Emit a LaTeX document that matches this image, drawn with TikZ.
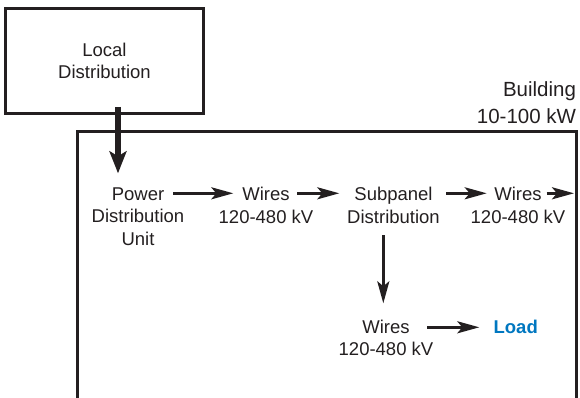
\documentclass[tikz,border=0pt]{standalone}
\usepackage{fontspec}
\setmainfont{Liberation Sans}
\usetikzlibrary{arrows.meta, positioning}
\definecolor{ink}{RGB}{35,31,32}
\definecolor{loadblue}{RGB}{0,119,192}

\begin{document}
\begin{tikzpicture}[x=1pt, y=-1pt,
    every node/.style={font=\fontsize{18.5}{22.5}\selectfont, inner sep=0pt, outer sep=0pt, text=ink},
    lbl/.style={align=center, anchor=base},
    frame/.style={draw=ink, line width=3pt},
    arr/.style={draw=ink, line width=2.8pt, -{Stealth[length=22pt, width=12pt, inset=5pt]}},
    feed/.style={draw=ink, line width=5.6pt, -{Stealth[length=22pt, width=17pt, inset=5pt]}}]
    \useasboundingbox (0,0) rectangle (580,398);

    % Building outline (open at the bottom)
    \draw[frame] (77,398) -- (77,132) coordinate (bTL) -- (576,132) coordinate (bTR) -- (576,398);
    \node[align=right, anchor=base east, font=\fontsize{20.5}{26.6}\selectfont] (bldg) at (576,123.3) {Building\\10-100 kW};

    % Local distribution
    \node[frame, align=center, minimum width=198pt, minimum height=105pt] (local) at (104.5,61) {Local\\Distribution};

    % Labels (base = last line)
    \node[lbl] (pdu) at (138,245) {Power\\Distribution\\Unit};
    \node[lbl] (wa) at (266,223) {Wires\\120-480 kV};
    \node[lbl] (sub) at (393.5,223) {Subpanel\\Distribution};
    \node[lbl] (wb) at (518,223) {Wires\\120-480 kV};
    \node[lbl, font=\fontsize{18.5}{21.7}\selectfont] (wc) at (386,355) {Wires\\120-480 kV};
    \node[anchor=base, text=loadblue, font=\fontsize{18.5}{22.5}\selectfont\bfseries] (load) at (515.7,333.3) {Load};

    % Feed into the building
    \draw[feed] ([shift={(13.5,-6.5)}]local.south) coordinate (f) -- ([yshift=71.7pt]f |- pdu.base);

    % Flow
    \draw[arr] ([shift={(35.3,-51.7)}]pdu.base) -- ([shift={(-32.7,-29.7)}]wa.base);
    \draw[arr] ([shift={(31.3,-29.7)}]wa.base) -- ([shift={(-54.2,-29.7)}]sub.base);
    \draw[arr] ([shift={(52.5,-29.7)}]sub.base) -- ([shift={(-31.3,-29.7)}]wb.base);
    \draw[arr] ([shift={(28.7,-29.7)}]wb.base) coordinate (w4) -- ([xshift=-2pt]w4 -| bTR);
    \draw[arr] ([shift={(-10.2,12)}]sub.base) coordinate (v) -- ([yshift=51.7pt]v |- wc.base);
    \draw[arr] ([shift={(41.3,-27.7)}]wc.base) -- ([shift={(-36.4,-6)}]load.base);
\end{tikzpicture}
\end{document}
